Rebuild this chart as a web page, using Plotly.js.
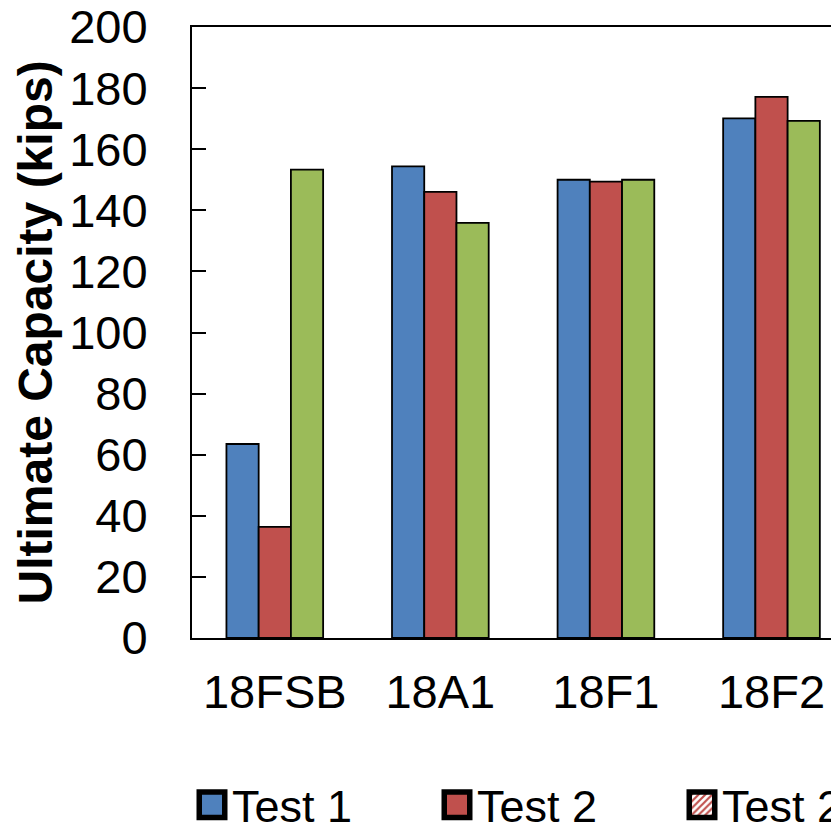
<!DOCTYPE html>
<html>
<head>
<meta charset="utf-8">
<script src="https://cdn.plot.ly/plotly-3.0.1.min.js"></script>
<style>
  html, body { margin: 0; padding: 0; background: #fff; overflow: hidden; width: 831px; height: 829px; }
  #chart { width: 1400px; height: 829px; }
</style>
</head>
<body>
<div id="chart"></div>
<script>
// Specimen groups and ultimate capacity (kips) per test
const categories = ['18FSB', '18A1', '18F1', '18F2'];
const test1 = [63.5, 154.4, 150.0, 170.1];
const test2 = [36.4, 146.0, 149.4, 177.1];
const test3 = [153.3, 135.9, 150.0, 169.3];
// hatched Test 2 series has no values in these groups
const test2Hatched = [null, null, null, null];
const seriesNames = ['Test 1', 'Test 2', 'Test 2', 'Test 3'];
const yTicks = [0, 20, 40, 60, 80, 100, 120, 140, 160, 180, 200];

const FONT = 'Liberation Sans, Arial, Helvetica, sans-serif';
const outline = { color: '#000', width: 1.8 };
const W = 1400, H = 829;
const xRange = [-0.5, 6.5];

const traces = [
  { type: 'bar', name: seriesNames[0], x: categories, y: test1,
    marker: { color: '#4F81BD', line: outline } },
  { type: 'bar', name: seriesNames[1], x: categories, y: test2,
    marker: { color: '#C0504D', line: outline } },
  { type: 'bar', name: seriesNames[2], x: categories, y: test2Hatched, xaxis: 'x2',
    marker: { color: '#fff', line: outline,
      pattern: { shape: '/', fgcolor: '#C0504D', bgcolor: '#fff', size: 6, solidity: 0.45 } } },
  { type: 'bar', name: seriesNames[3], x: categories, y: test3,
    marker: { color: '#9BBB59', line: outline } }
];

const layout = {
  width: W, height: H,
  // plot area: 192 px from the left, 165.6 px per category slot
  margin: { l: 192, r: W - 192 - 165.6 * 7, t: 27, b: 191 },
  paper_bgcolor: '#fff', plot_bgcolor: '#fff',
  font: { family: FONT, color: '#000', size: 47 },
  barmode: 'group', bargap: 0.416, bargroupgap: 0,
  showlegend: true,
  xaxis: {
    type: 'category', range: xRange,
    showline: true, linecolor: '#000', linewidth: 2, mirror: true,
    ticks: '', showgrid: false, zeroline: false,
    tickfont: { family: FONT, size: 47, color: '#000' },
    ticklabelstandoff: 12
  },
  xaxis2: { overlaying: 'x', visible: false, type: 'category', range: xRange },
  yaxis: {
    range: [0, 200], tickvals: yTicks, ticktext: yTicks.map(String),
    showline: true, linecolor: '#000', linewidth: 2, mirror: true,
    ticks: 'inside', ticklen: 14, tickwidth: 2, tickcolor: '#000',
    showgrid: false, zeroline: false,
    tickfont: { family: FONT, size: 47, color: '#000' },
    ticklabelstandoff: 33
  },
  legend: {
    orientation: 'h', x: 0, xanchor: 'left', xref: 'paper',
    y: 1 - 805 / H, yanchor: 'middle', yref: 'container',
    font: { family: FONT, size: 45, color: '#000' },
    entrywidthmode: 'pixels', entrywidth: 200,
    traceorder: 'normal', bgcolor: 'rgba(0,0,0,0)'
  },
  annotations: [{
    text: 'Ultimate Capacity (kips)',
    xref: 'paper', yref: 'paper', x: 0, y: 0.5, xshift: -157,
    xanchor: 'center', yanchor: 'middle', textangle: -90, showarrow: false,
    font: { family: FONT, size: 48, color: '#000', weight: 'bold' }
  }]
};

// larger square legend keys with a heavy black frame
function enlargeKeys(gd) {
  gd.querySelectorAll('path.legendbar, .legendpoints path').forEach(p => {
    p.setAttribute('d', 'M12.75,12.75H-12.75V-12.75H12.75Z');
    p.style.strokeWidth = '5.5px';
    p.style.stroke = '#000';
  });
}

Plotly.newPlot('chart', traces, layout, { staticPlot: true, displayModeBar: false }).then(gd => {
  enlargeKeys(gd);
  gd.on('plotly_afterplot', () => enlargeKeys(gd));
  setTimeout(() => enlargeKeys(gd), 50);
});
</script>
</body>
</html>
